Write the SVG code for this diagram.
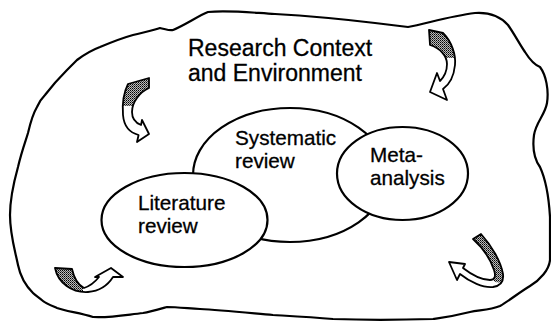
<svg xmlns="http://www.w3.org/2000/svg" xmlns:xlink="http://www.w3.org/1999/xlink" width="551" height="321" viewBox="0 0 551 321">
<style>
  .line { fill: none; stroke: #000; stroke-width: 2.2; stroke-linejoin: round; }
  .node { fill: #fff; stroke: #000; stroke-width: 2.2; }
  .arrowfill { fill: #fff; }
  .shade { fill: url(#dots); }
  .arrowline { fill: none; stroke: #000; stroke-width: 1.8; stroke-linejoin: round; }
  .title { font-family: "Liberation Sans", Arial, sans-serif; font-size: 23px; fill: #000; stroke: #000; stroke-width: 0.3; }
  .label { font-family: "Liberation Sans", Arial, sans-serif; font-size: 20.7px; fill: #000; stroke: #000; stroke-width: 0.3; }
</style>
<defs>
  <pattern id="dots" width="2" height="2" patternUnits="userSpaceOnUse">
    <rect width="2" height="2" fill="#bbb"/>
    <rect width="1" height="1" fill="#000"/>
    <rect x="1" y="1" width="1" height="1" fill="#444"/>
  </pattern>
  <path id="a1" d="M128,84 L149,78 L149,88 C140,92 132,102 132,112 C132,119 136,123 141,125 L142,120 L149,134 L137,142 L138.6,135 C131,133 124,127 123,115 C122,103 124,92 128,84 Z"/>
  <path id="a2" d="M429,30 L443,33 C452,42 456,55 455,65 C454,75 450,84 443,89 L447,100 L430,92 L437,73 L440,81 C445,76 447,70 447,64 C447,56 440,48 430,45 Z"/>
  <path id="a3" d="M55,268 L72,269 C74,278 78,285 84,288 C90,286 95,282 99,277 L95,277 L111,268 L123,277 L113,277 C108,285 100,291 88,292 C72,293 58,283 55,268 Z"/>
  <path id="a4" d="M473,239 L481,234 C492,246 501,262 503,274 C504,282 500,286 493,287 C483,288 470,282 460,274 L457,280 L449,262 L465,264 L463,268 C472,275 482,280 490,280 C495,280 496,276 494,270 C490,258 482,247 473,239 Z"/>
  <clipPath id="c1"><rect x="110" y="70" width="50" height="36"/></clipPath>
  <clipPath id="c2"><rect x="420" y="25" width="45" height="33"/></clipPath>
  <clipPath id="c3"><rect x="45" y="260" width="38" height="40"/></clipPath>
  <clipPath id="c4"><polygon points="468,228 512,228 512,284 495,282 470,256"/></clipPath>
</defs>

<g id="context">
  <path class="line" d="M208,12 C230,10 255,13 275,14 C310,16 350,20 375,23 L408,27 C425,24 450,16 475,13 C490,12 500,16 508,25 C515,35 520,45 525,52 C530,60 535,65 540,67 C546,75 549,90 547,103 C545,115 536,122 534,135 C532,150 535,160 540,167 C546,180 549,200 550,217 L550,260 C549,270 540,280 530,286 C520,292 510,300 500,306 C490,310 480,310 470,312 C450,317 440,318 433,319 C400,320 360,320 333,319 C310,317 290,316 273,315 C250,313 220,310 200,309 C185,308 175,307 167,307 C160,309 150,312 143,313 C125,315 110,318 93,317 C80,313 65,311 57,308 C50,305 45,303 43,301 C38,297 35,295 33,293 C25,285 20,275 18,265 C15,250 10,235 10,215 C10,200 13,185 18,167 C22,150 26,140 28,133 C31,120 34,112 37,107 C40,100 42,98 45,95 C55,82 62,75 67,70 C70,67 74,63 77,60 C85,54 92,50 100,47 C112,42 122,38 133,35 C145,32 155,30 160,28 C165,29 170,31 173,30 C185,25 198,16 208,12 Z"/>
  <text class="title" x="188" y="56">Research Context</text>
  <text class="title" x="188" y="81">and Environment</text>
</g>

<g id="connectors">
  <g id="arrow-top-left">
    <use xlink:href="#a1" class="arrowfill"/>
    <use xlink:href="#a1" class="shade" clip-path="url(#c1)"/>
    <use xlink:href="#a1" class="arrowline"/>
  </g>
  <g id="arrow-top-right">
    <use xlink:href="#a2" class="arrowfill"/>
    <use xlink:href="#a2" class="shade" clip-path="url(#c2)"/>
    <use xlink:href="#a2" class="arrowline"/>
  </g>
  <g id="arrow-bottom-left">
    <use xlink:href="#a3" class="arrowfill"/>
    <use xlink:href="#a3" class="shade" clip-path="url(#c3)"/>
    <use xlink:href="#a3" class="arrowline"/>
  </g>
  <g id="arrow-bottom-right">
    <use xlink:href="#a4" class="arrowfill"/>
    <use xlink:href="#a4" class="shade" clip-path="url(#c4)"/>
    <use xlink:href="#a4" class="arrowline"/>
  </g>
</g>

<g id="systematic-review">
  <ellipse class="node" cx="290" cy="175" rx="97" ry="67"/>
  <text class="label" x="235" y="145">Systematic</text>
  <text class="label" x="235" y="168">review</text>
</g>

<g id="literature-review">
  <ellipse class="node" cx="184.5" cy="220" rx="83" ry="47"/>
  <text class="label" x="138" y="210">Literature</text>
  <text class="label" x="138" y="233">review</text>
</g>

<g id="meta-analysis">
  <ellipse class="node" cx="402.5" cy="173.5" rx="65.5" ry="46.5"/>
  <text class="label" x="370" y="162">Meta-</text>
  <text class="label" x="370" y="185">analysis</text>
</g>
</svg>
